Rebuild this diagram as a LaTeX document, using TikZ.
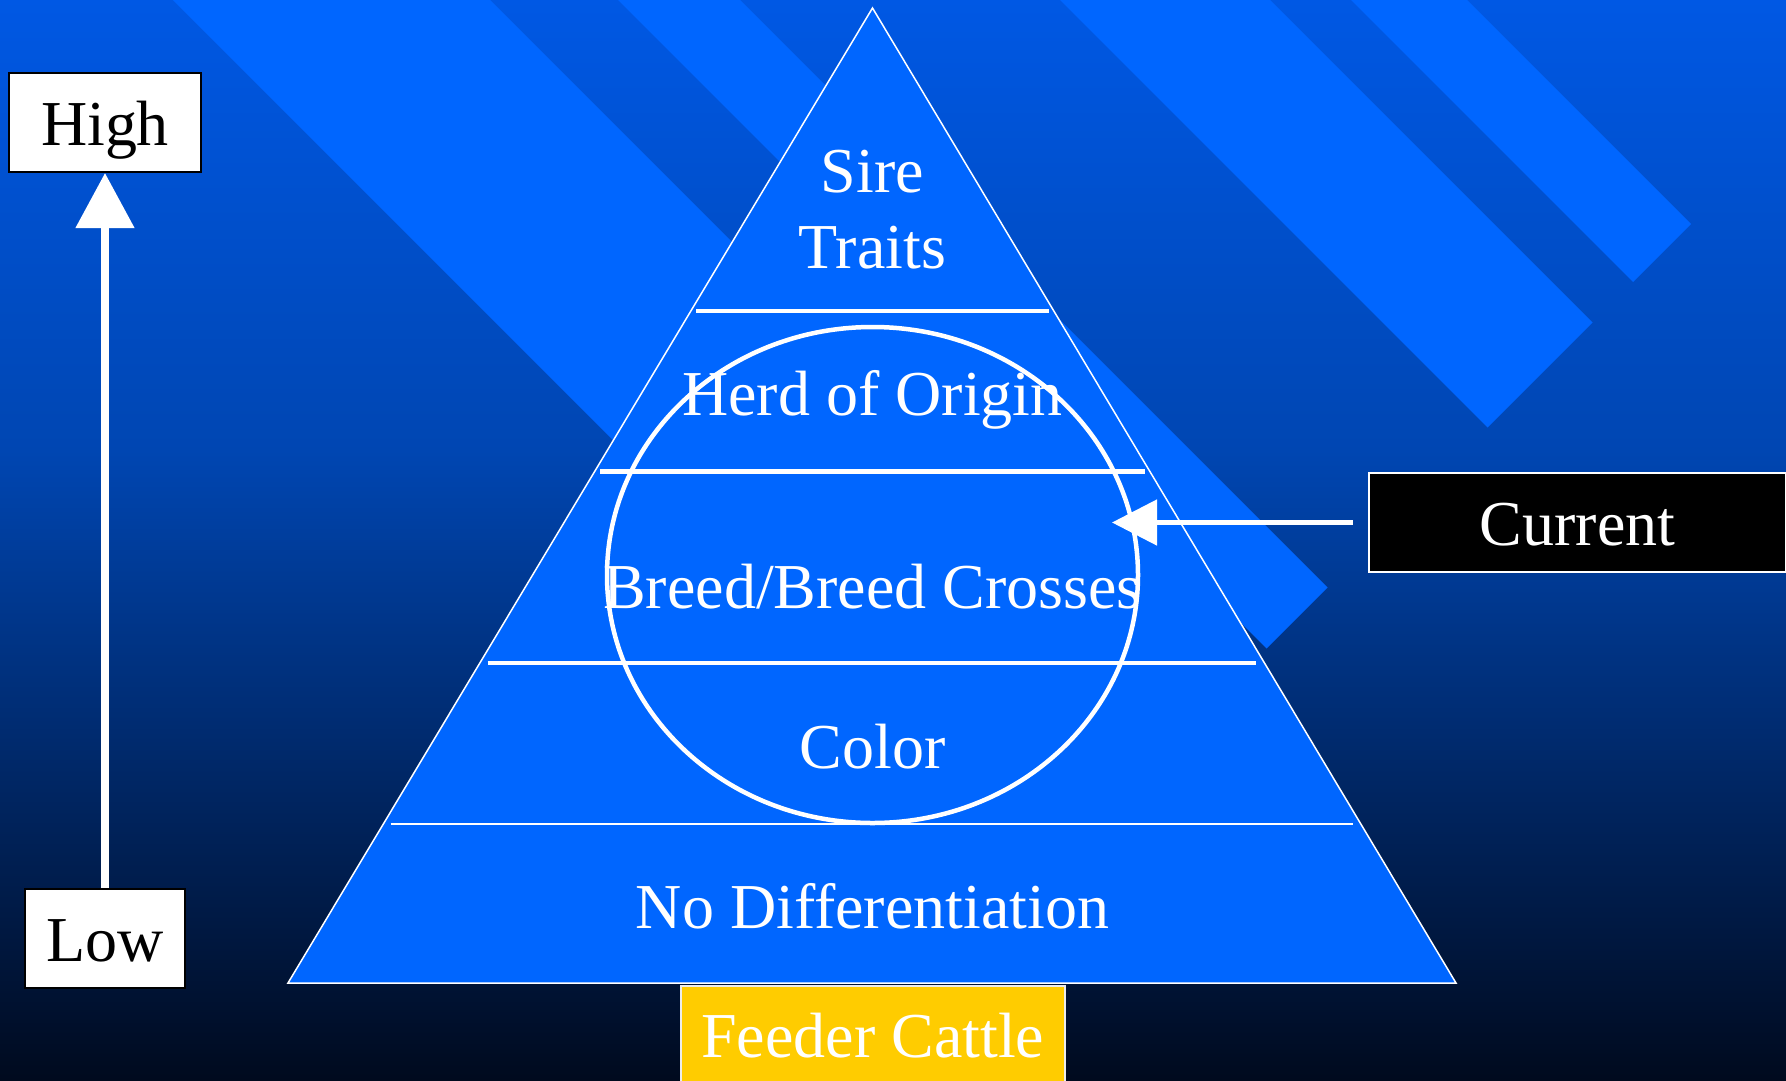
\documentclass[tikz,border=0pt]{standalone}
\usepackage{fontspec}
\setmainfont{Liberation Serif}
\usetikzlibrary{arrows.meta}
\definecolor{bgtop}{RGB}{0,88,228}
\definecolor{bgmid}{RGB}{0,70,178}
\definecolor{bgbot}{RGB}{0,10,30}
\definecolor{stripe}{RGB}{0,102,255}
\definecolor{feeder}{RGB}{255,204,0}

\begin{document}
\begin{tikzpicture}[x=1pt,y=-1pt,
  lbl/.style={text=white,font=\fontsize{64}{76}\selectfont,anchor=base},
  lvlbox/.style={draw,line width=2pt,inner sep=0pt,anchor=north west,text height=72pt,text depth=27pt,font=\fontsize{64}{76}\selectfont},
  divider/.style={white,line width=4.5pt}]
  \useasboundingbox (0,0) rectangle (1786,1080);
  \shade[top color=bgtop,bottom color=bgmid] (0,0) rectangle (1786,451);
  \shade[top color=bgmid,bottom color=bgbot] (0,450) rectangle (1786,1080);
  % stripes, all cut off along x+y=1915
  \fill[stripe] (173,0) -- (490,0) -- (1202.5,712.5) -- (1044,871) -- cycle;
  \fill[stripe] (618,0) -- (740,0) -- (1327.5,587.5) -- (1266.5,648.5) -- cycle;
  \fill[stripe] (1060,0) -- (1270,0) -- (1592.5,322.5) -- (1487.5,427.5) -- cycle;
  \fill[stripe] (1351,0) -- (1467,0) -- (1691,224) -- (1633,282) -- cycle;
  % pyramid
  \draw[white,fill=stripe,line width=1.5pt] (872.5,8) -- (1456,983) -- (288,983) -- cycle;
  \draw[divider] (696,311) -- (1049,311);
  \draw[divider] (600,471.5) -- (1145,471.5);
  \draw[divider] (487.5,663) -- (1256,663);
  \draw[white,line width=2pt] (390.5,823.5) -- (1353,823.5);
  \node[lbl] (sire) at (872.5,192) {Sire};
  \node[lbl] (traits) at (872.5,268) {Traits};
  \node[lbl] (herd) at (872.5,415) {Herd of Origin};
  \node[lbl] (breed) at (872.5,608) {Breed/Breed Crosses};
  \node[lbl] (color) at (872.5,768) {Color};
  \node[lbl] (nodiff) at (872.5,928) {No Differentiation};
  \draw[white,line width=4.5pt] (872.5,575) ellipse [x radius=265.5pt,y radius=248pt];
  \node[lvlbox,fill=feeder,draw=white!85!gray,line width=1.5pt,text=white,minimum width=384pt] (feeder) at (680,985) {Feeder Cattle};
  % scale
  \node[lvlbox,fill=white,minimum width=192pt] (high) at (8,72) {High};
  \node[lvlbox,fill=white,minimum width=160pt] (low) at (24,888) {Low};
  \draw[white,line width=8pt,-{Triangle[length=55pt,width=57pt]}] (low) -- (high);
  % current
  \node[lvlbox,fill=black,draw=white,text=white,minimum width=417pt] (current) at (1368,472) {Current};
  \coordinate (tip) at (1112,521.5);
  \draw[white,line width=5pt,shorten <=15.5pt,-{Triangle[length=45pt,width=45pt]}] (current.west) -- (current.west -| tip);
\end{tikzpicture}
\end{document}
